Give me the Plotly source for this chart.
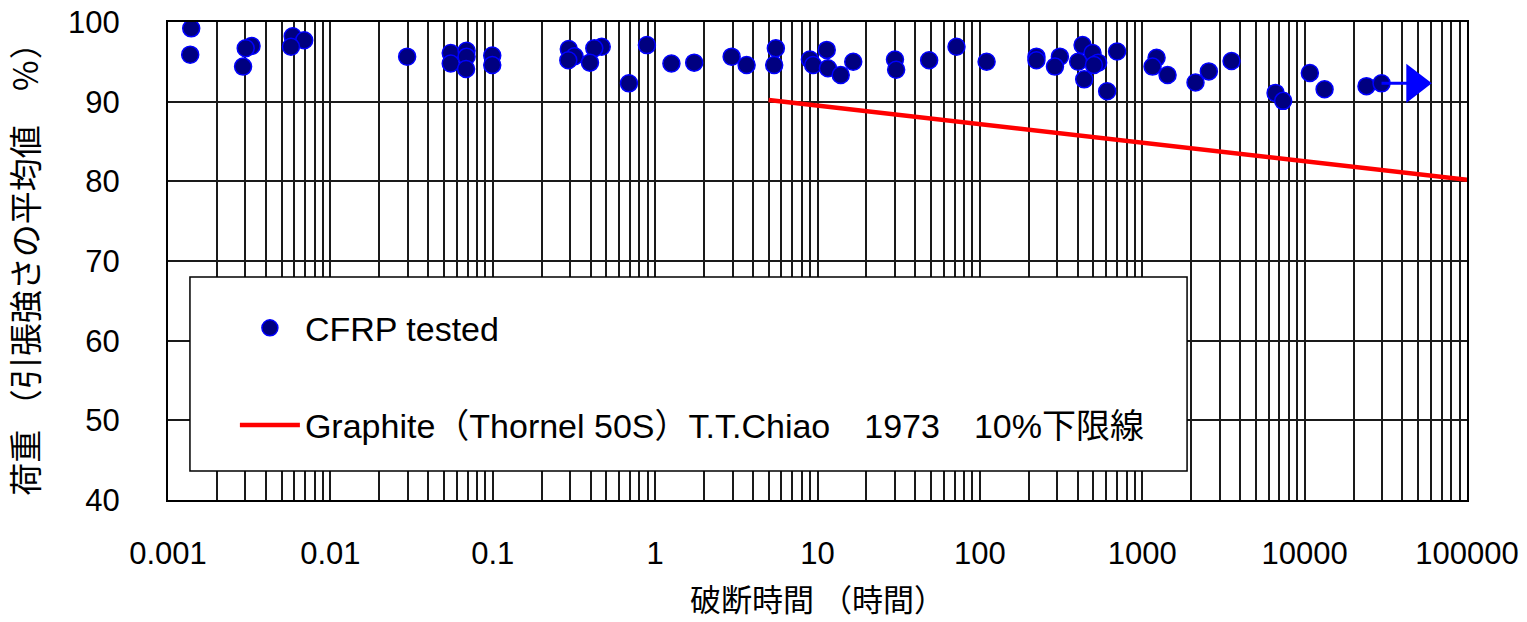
import plotly.graph_objects as go

# Creep-rupture test results: time to failure (hours) vs. sustained load (% of mean tensile strength)
cfrp_hours = [
    0.00139, 0.00137, 0.00327, 0.00301, 0.0029,
    0.00586, 0.0069, 0.00572, 0.0297,
    0.0551, 0.069, 0.069, 0.0551, 0.0685, 0.0993, 0.0993,
    0.294, 0.319, 0.292, 0.469, 0.422, 0.397, 0.69, 0.89,
    1.26, 1.74, 2.96, 3.66, 5.54, 5.41,
    8.98, 9.4, 11.4, 11.6, 13.9, 16.6,
    30.0, 30.5, 48.7, 71.8, 110,
    223, 223, 311, 290, 429, 494, 403, 535, 504, 439, 608, 700,
    1225, 1157, 1432, 2128, 2571, 3548,
    6622, 7376, 10770, 13270, 24040, 29770,
]
cfrp_load = [
    99.2, 95.9, 97.0, 96.7, 94.4,
    98.2, 97.7, 96.9, 95.65,
    96.1, 96.4, 95.65, 94.8, 94.1, 95.8, 94.6,
    96.6, 95.7, 95.2, 96.9, 96.7, 94.9, 92.3, 97.1,
    94.8, 94.9, 95.65, 94.6, 96.7, 94.6,
    95.3, 94.6, 96.5, 94.2, 93.35, 95.0,
    95.3, 94.0, 95.2, 96.9, 95.0,
    95.65, 95.2, 95.65, 94.4, 97.1, 96.1, 95.0, 94.9, 94.6, 92.8, 91.3, 96.3,
    95.5, 94.4, 93.35, 92.4, 93.8, 95.1,
    91.1, 90.1, 93.6, 91.55, 91.95, 92.3,
]

# Specimen still running (no failure yet): arrow from last point
runout_hours = [29770, 47700]
runout_load = [92.3, 92.3]

# T.T.Chiao (1973), Thornel 50S graphite, 10% lower bound
chiao_hours = [5, 100000]
chiao_load = [90.2, 80.2]

x_tick_vals = [0.001, 0.01, 0.1, 1, 10, 100, 1000, 10000, 100000]
x_tick_text = ["0.001", "0.01", "0.1", "1", "10", "100", "1000", "10000", "100000"]
y_tick_vals = [40, 50, 60, 70, 80, 90, 100]

x_title = "破断時間 （時間）"
y_title = "荷重 （引張強さの平均値\u3000％）"

# every 1..9 position of each decade gets a vertical grid line
grid_vals = []
grid_text = []
for v, t in zip(x_tick_vals, x_tick_text):
    grid_vals.append(v)
    grid_text.append(t)
    if v < 100000:
        for m in range(2, 10):
            grid_vals.append(v * m)
            grid_text.append("")

LATIN = "Liberation Sans, Arial, Noto Sans CJK JP, sans-serif"
CJK = "Noto Sans CJK JP, Liberation Sans, sans-serif"

fig = go.Figure()

fig.add_trace(go.Scatter(
    x=cfrp_hours, y=cfrp_load, mode="markers", name="CFRP tested",
    legendgroup="a",
    marker=dict(symbol="circle", size=17, color="#000080", opacity=1,
                line=dict(color="#0000ff", width=1.5)),
))

fig.add_trace(go.Scatter(
    x=chiao_hours, y=chiao_load, mode="lines",
    name="Graphite（Thornel 50S）T.T.Chiao\u30001973\u300010%下限線",
    legendgroup="b",
    line=dict(color="#ff0000", width=4.5),
))

fig.add_trace(go.Scatter(
    x=runout_hours, y=runout_load, mode="lines+markers", showlegend=False,
    opacity=1,
    line=dict(color="#0000ff", width=3),
    marker=dict(symbol="triangle-right", size=[0, 34], color="#0000ff",
                opacity=1, line=dict(width=0)),
))

fig.update_layout(
    width=1527, height=622,
    margin=dict(l=168, r=60, t=22, b=122),
    paper_bgcolor="white", plot_bgcolor="white",
    showlegend=True,
    legend=dict(
        x=0.0515, y=0.42, xanchor="left", yanchor="top",
        bgcolor="rgba(0,0,0,0)", borderwidth=0,
        traceorder="grouped", tracegroupgap=50,
        itemwidth=60,
        font=dict(family=LATIN, size=34, color="black"),
    ),
    shapes=[dict(
        type="rect", xref="paper", yref="paper",
        x0=0.0169, x1=0.7845, y0=0.0607, y1=0.4665,
        fillcolor="white", line=dict(color="black", width=1.5),
        layer="above",
    )],
    # x-axis title sits close to the bottom edge of the page
    annotations=[dict(
        text=x_title, xref="paper", yref="paper",
        x=0.5, y=-0.205, xanchor="center", yanchor="middle",
        showarrow=False, font=dict(family=CJK, size=31, color="black"),
    )],
)

fig.update_xaxes(
    type="log", range=[-3, 5], automargin=False,
    tickmode="array", tickvals=grid_vals, ticktext=grid_text,
    showgrid=True, gridcolor="#1a1a1a", gridwidth=1.7,
    showline=True, linecolor="black", linewidth=2, mirror=True,
    ticks="", ticklabelstandoff=25,
    tickfont=dict(family=LATIN, size=31, color="black"),
    zeroline=False,
)

fig.update_yaxes(
    range=[40, 100], tickmode="array", tickvals=y_tick_vals, automargin=False,
    showgrid=True, gridcolor="#1a1a1a", gridwidth=1.7,
    showline=True, linecolor="black", linewidth=2, mirror=True,
    ticks="", ticklabelstandoff=40,
    tickfont=dict(family=LATIN, size=31, color="black"),
    title=dict(text=y_title, standoff=22,
               font=dict(family=CJK, size=33, color="black")),
    zeroline=False,
)

fig.write_html("out.html")
